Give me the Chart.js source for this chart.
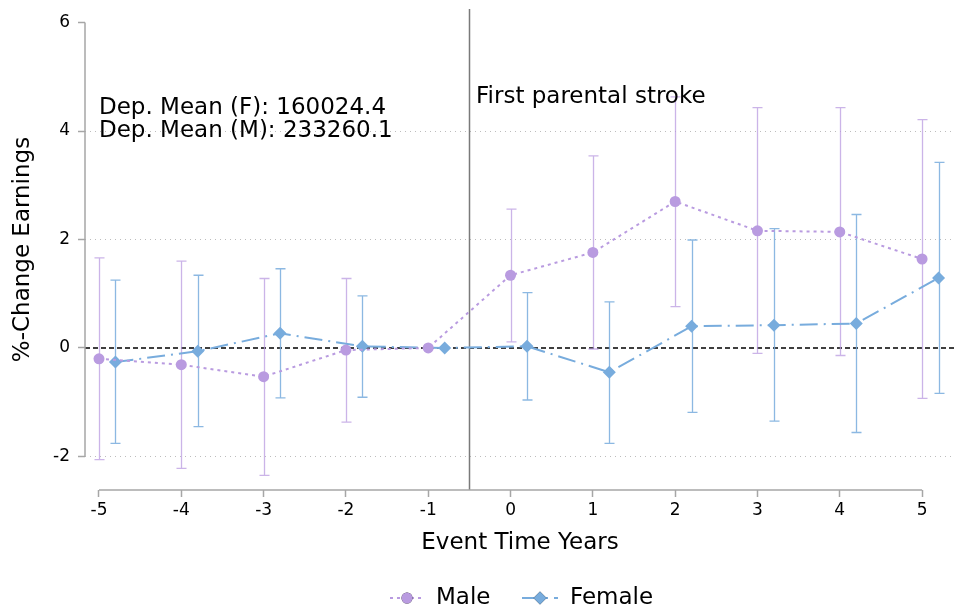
<!DOCTYPE html>
<html>
<head>
<meta charset="utf-8">
<script src="https://cdn.jsdelivr.net/npm/chart.js@4.4.1/dist/chart.umd.min.js"></script>
<style>
  html, body { margin:0; padding:0; background:#fff; }
  #wrap { width:956px; height:610px; }
</style>
</head>
<body>
<div id="wrap"><canvas id="chart" width="956" height="610"></canvas></div>
<script>
// --- Data ---
const eventYears = [-5, -4, -3, -2, -1, 0, 1, 2, 3, 4, 5];
const maleCoef  = [-0.20, -0.31, -0.53, -0.04, 0, 1.34, 1.76, 2.70, 2.16, 2.14, 1.64];
const maleLow   = [-2.06, -2.22, -2.35, -1.37, null, 0.11, -0.02, 0.76, -0.10, -0.14, -0.93];
const maleHigh  = [1.66, 1.60, 1.28, 1.28, null, 2.56, 3.54, 4.63, 4.43, 4.43, 4.21];
const femaleCoef = [-0.26, -0.06, 0.27, 0.03, 0, 0.03, -0.45, 0.40, 0.42, 0.45, 1.29];
const femaleLow  = [-1.76, -1.45, -0.92, -0.91, null, -0.96, -1.76, -1.19, -1.35, -1.56, -0.84];
const femaleHigh = [1.25, 1.34, 1.46, 0.96, null, 1.02, 0.85, 1.99, 2.20, 2.46, 3.42];
const yTicks = [-2, 0, 2, 4, 6];
const xTicks = [-5, -4, -3, -2, -1, 0, 1, 2, 3, 4, 5];
const eventLine = -0.5;
const noteLines = ['Dep. Mean (F): 160024.4', 'Dep. Mean (M): 233260.1'];
const eventLabel = 'First parental stroke';

// --- Styles ---
const FONT = '"DejaVu Sans", sans-serif';
const maleColor = '#b99be0';
const maleBar = 'rgba(185,155,224,0.75)';
const femaleColor = '#78acdd';
const femaleBar = 'rgba(120,172,221,0.85)';
const femaleShift = 0.2;
const axisGrey = '#a6a6a6';

const pts = (xs, ys, shift) => xs.map((x, i) => ({ x: x + shift, y: ys[i] }));

// --- Plugin: reference lines, error bars, axes, notes, legend ---
const extras = {
  id: 'extras',
  beforeDatasetsDraw(chart) {
    const { ctx, chartArea: a, scales: { x, y } } = chart;
    ctx.save();
    // zero line
    ctx.strokeStyle = '#000'; ctx.lineWidth = 1.5; ctx.setLineDash([5, 3]);
    ctx.beginPath(); ctx.moveTo(a.left, y.getPixelForValue(0)); ctx.lineTo(a.right, y.getPixelForValue(0)); ctx.stroke();
    // event line
    ctx.setLineDash([]); ctx.strokeStyle = '#7a7a7a'; ctx.lineWidth = 1.5;
    const ex = Math.round(x.getPixelForValue(eventLine)) + 0.5;
    ctx.beginPath(); ctx.moveTo(ex, a.top); ctx.lineTo(ex, a.bottom); ctx.stroke();
    // error bars
    const bars = (lo, hi, shift, color) => {
      ctx.strokeStyle = color; ctx.lineWidth = 1.3;
      eventYears.forEach((e, i) => {
        if (lo[i] === null) return;
        const px = Math.round(x.getPixelForValue(e + shift)) + 0.5;
        const y1 = y.getPixelForValue(lo[i]), y2 = y.getPixelForValue(hi[i]);
        ctx.beginPath();
        ctx.moveTo(px, y1); ctx.lineTo(px, y2);
        ctx.moveTo(px - 5, y1); ctx.lineTo(px + 5, y1);
        ctx.moveTo(px - 5, y2); ctx.lineTo(px + 5, y2);
        ctx.stroke();
      });
    };
    bars(maleLow, maleHigh, 0, maleBar);
    bars(femaleLow, femaleHigh, femaleShift, femaleBar);
    ctx.restore();
  },
  afterDraw(chart) {
    const { ctx, chartArea: a, scales: { x, y } } = chart;
    ctx.save();
    // truncated axis lines
    ctx.strokeStyle = axisGrey; ctx.lineWidth = 1.5;
    ctx.beginPath();
    ctx.moveTo(a.left, y.getPixelForValue(yTicks[yTicks.length - 1]));
    ctx.lineTo(a.left, y.getPixelForValue(yTicks[0]));
    ctx.moveTo(x.getPixelForValue(xTicks[0]), a.bottom);
    ctx.lineTo(x.getPixelForValue(xTicks[xTicks.length - 1]), a.bottom);
    ctx.stroke();
    // notes
    ctx.fillStyle = '#000'; ctx.font = '23px ' + FONT; ctx.textBaseline = 'middle'; ctx.textAlign = 'left';
    ctx.fillText(noteLines[0], 99, 108);
    ctx.fillText(noteLines[1], 99, 131);
    ctx.fillText(eventLabel, 476, 97);
    // legend
    const cy = 598;
    const items = [
      { x: 390, w: 34, label: chart.data.datasets[0].label, ds: chart.data.datasets[0] },
      { x: 522, w: 36, label: chart.data.datasets[1].label, ds: chart.data.datasets[1] }
    ];
    items.forEach(it => {
      ctx.strokeStyle = it.ds.borderColor; ctx.lineWidth = 2; ctx.setLineDash(it.ds.borderDash);
      ctx.beginPath(); ctx.moveTo(it.x, cy); ctx.lineTo(it.x + it.w, cy); ctx.stroke();
      ctx.setLineDash([]);
      Chart.helpers.drawPoint(ctx, { pointStyle: it.ds.pointStyle, radius: it.ds.pointRadius, rotation: 0, borderWidth: 0 }, it.x + it.w / 2, cy);
      ctx.fillStyle = it.ds.pointBackgroundColor; ctx.fill();
      ctx.fillStyle = '#000'; ctx.font = '23px ' + FONT; ctx.textBaseline = 'middle';
      ctx.fillText(it.label, it.x + it.w + 12, cy);
    });
    ctx.restore();
  }
};

new Chart(document.getElementById('chart'), {
  type: 'line',
  data: {
    datasets: [
      {
        label: 'Male', data: pts(eventYears, maleCoef, 0),
        borderColor: maleColor, borderWidth: 2, borderDash: [3, 4],
        pointStyle: 'circle', pointRadius: 5.5, pointBackgroundColor: maleColor, pointBorderWidth: 0
      },
      {
        label: 'Female', data: pts(eventYears, femaleCoef, femaleShift),
        borderColor: femaleColor, borderWidth: 2, borderDash: [18, 6, 2, 6],
        pointStyle: 'rectRot', pointRadius: 6.5, pointBackgroundColor: femaleColor, pointBorderWidth: 0
      }
    ]
  },
  options: {
    responsive: false, animation: false,
    layout: { autoPadding: false, padding: { top: 9, right: 1, bottom: 50, left: 0 } },
    plugins: { legend: { display: false }, tooltip: { enabled: false } },
    scales: {
      x: {
        type: 'linear', min: -5.17, max: 5.4,
        afterBuildTicks: s => { s.ticks = xTicks.map(v => ({ value: v })); },
        afterFit: s => { s.height = 70; s.paddingLeft = 0; s.paddingRight = 0; },
        border: { display: false },
        grid: { drawOnChartArea: false, drawTicks: true, tickLength: 7, tickColor: axisGrey, tickWidth: 1.5 },
        ticks: { color: '#000', font: { family: FONT, size: 17 }, padding: 3, maxRotation: 0 },
        title: { display: true, text: 'Event Time Years', color: '#000', font: { family: FONT, size: 23 }, padding: { top: 2, bottom: 3 } }
      },
      y: {
        min: -2.62, max: 6.25,
        afterBuildTicks: s => { s.ticks = yTicks.map(v => ({ value: v })); },
        afterFit: s => { s.width = 85; s.paddingTop = 0; s.paddingBottom = 0; },
        border: { display: false, dash: [1, 4] },
        grid: {
          color: c => (c.tick && (c.tick.value === 0 || c.tick.value === 6)) ? 'rgba(0,0,0,0)' : '#bdbdbd',
          lineWidth: 1, tickLength: 7, tickColor: axisGrey, tickWidth: 1.5, tickBorderDash: [0, 0]
        },
        ticks: { color: '#000', font: { family: FONT, size: 17 }, padding: 8 },
        title: { display: true, text: '%-Change Earnings', color: '#000', font: { family: FONT, size: 23 }, padding: { top: 9, bottom: 4 } }
      }
    }
  },
  plugins: [extras]
});
</script>
</body>
</html>
